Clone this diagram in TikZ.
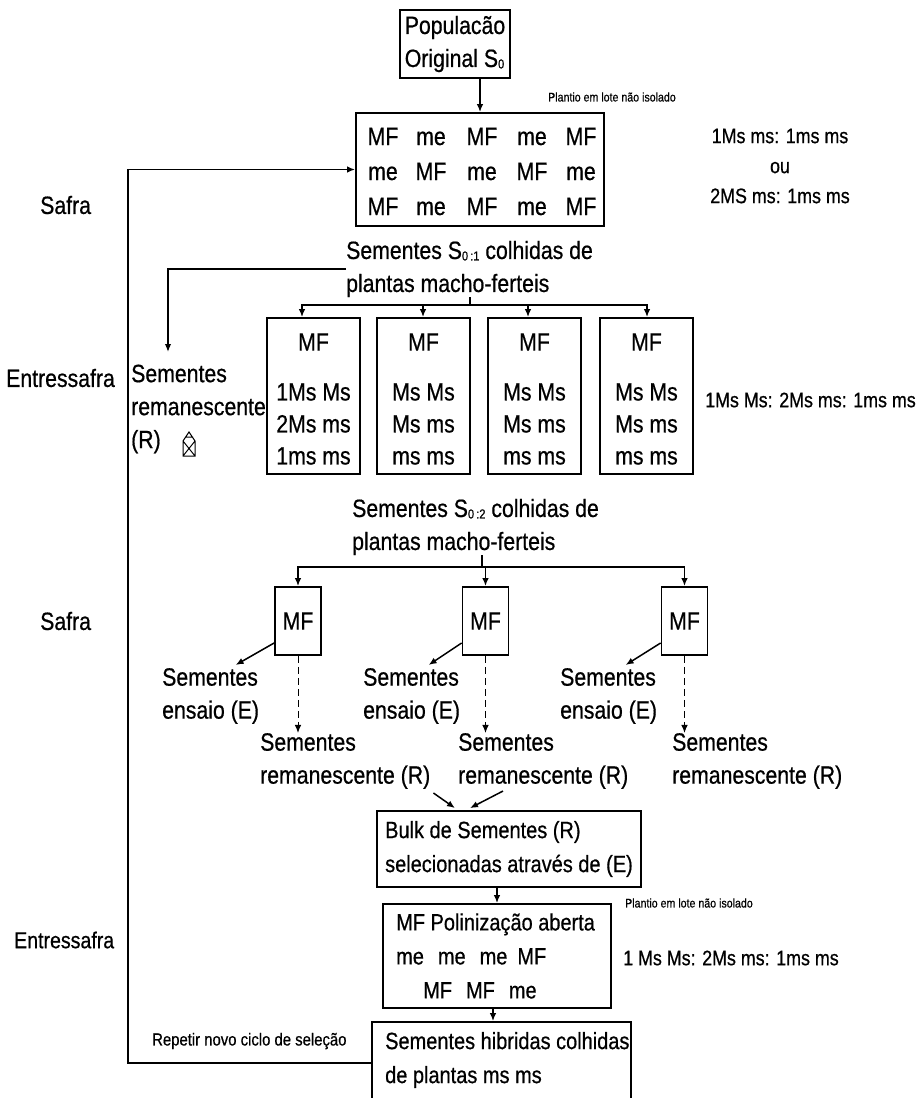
\documentclass[tikz,border=0pt]{standalone}
\usepackage{fontspec}
\setmainfont[FakeStretch=0.85,FakeBold=0.6]{Liberation Sans}
\usetikzlibrary{arrows.meta}
\newcommand{\sbx}[1]{\raisebox{-1.5pt}{\fontsize{13}{13}\selectfont #1}}
\begin{document}
\begin{tikzpicture}[x=1pt,y=-1pt]
\tikzset{
 T/.style={inner sep=0pt, font=\fontsize{25}{33}\selectfont, align=left},
 TB/.style={inner sep=0pt, font=\fontsize{23.5}{34}\selectfont, align=left},
 TR/.style={inner sep=0pt, font=\fontsize{21}{30}\selectfont, align=center},
 TS/.style={inner sep=0pt, font=\fontsize{12.5}{14}\selectfont},
 TP/.style={inner sep=0pt, font=\fontsize{17.5}{20}\selectfont},
 bx/.style={draw, line width=1.8pt, inner sep=0pt},
 ln/.style={line width=1.5pt},
 ar/.style={ln, -{Latex[length=8pt,width=6.5pt]}},
 da/.style={ar, dash pattern=on 7pt off 4pt, line width=1pt},
}
\fill[white] (0,0) rectangle (919,1098);
\useasboundingbox (0,0) rectangle (919,1098);
% top
\node[bx,T,minimum width=110pt,minimum height=68pt] (top) at (455,44) {Populacão\\Original S\sbx{0}};
\node[bx,minimum width=248pt,minimum height=113pt] (grid) at (480,169.5) {};
\draw[ar] (top.south -| grid.north) -- (grid.north);
\node[TS,anchor=west] (pl1) at (548,97) {Plantio em lote não isolado};
\foreach \r/\y in {1/145,2/180,3/215}{
 \foreach \c/\x in {1/383,2/431,3/482,4/532,5/581}{
   \pgfmathtruncatemacro\p{mod(\r+\c,2)}
   \node[T,anchor=base] (g\r\c) at (\x,\y) {\ifnum\p=0 MF\else me\fi};
 }
}
\node[TR] (rt1) at (780,166) {1Ms ms: 1ms ms\\ou\\2MS ms: 1ms ms};
\node[T,anchor=west] (sf1) at (40,205) {Safra};
% S0:1
\node[T,anchor=west] (s01) at (346,269) {Sementes S\sbx{0\,:1} colhidas de\\plantas macho-ferteis};
\coordinate (k1) at (168,352);
\draw[ar] (s01.west) -| (k1);
\coordinate (j1) at (470,305);
\draw[ln] (s01.south -| j1) -- (j1);
\foreach \n/\x/\d in {1/313.5/-11.5, 2/423.5/-0.5, 3/534.5/-6.5, 4/646.5/0.5}{
  \node[bx,minimum width=93pt,minimum height=156pt] (b\n) at (\x,396) {};
  \draw[ar] (j1) -| ([xshift=\d pt]b\n.north);
  \node[T] (bm\n) at (\x,342) {MF};
}
\tikzset{BT/.style={inner sep=0pt, font=\fontsize{25}{32}\selectfont, align=left}}
\node[BT] (bt1) at (313.5,424) {1Ms Ms\\2Ms ms\\1ms ms};
\node[BT] (bt2) at (423.5,424) {Ms Ms\\Ms ms\\ms ms};
\node[BT] (bt3) at (534.5,424) {Ms Ms\\Ms ms\\ms ms};
\node[BT] (bt4) at (646.5,424) {Ms Ms\\Ms ms\\ms ms};
\node[T,anchor=west] (rem) at (131,409) {Sementes\\remanescente\\(R)};
\draw[line width=1pt] (183,456) -- (183,441) -- (189,432) -- (195,441) -- (195,456) -- cycle
  (183,441) -- (195,456) (195,441) -- (183,456) (185,437) -- (193,437);
\node[T,anchor=west] (ent1) at (6,378) {Entressafra};
\node[TR,anchor=west] (rt2) at (705,400) {1Ms Ms: 2Ms ms: 1ms ms};
% S0:2
\node[T,anchor=west] (s02) at (352,527) {Sementes S\sbx{0\,:2} colhidas de\\plantas macho-ferteis};
\coordinate (j2) at (482,567);
\draw[ln] (s02.south -| j2) -- (j2);
\node[T,anchor=west] (r1) at (260,761) {Sementes\\remanescente (R)};
\node[T,anchor=west] (r2) at (458,761) {Sementes\\remanescente (R)};
\node[T,anchor=west] (r3) at (672,761) {Sementes\\remanescente (R)};
\foreach \n/\x/\ex/\es in {1/298/162/25, 2/485.5/363/17, 3/684.5/560/17}{
  \node[bx,T,minimum width=46pt,minimum height=68pt] (m\n) at (\x,621) {MF};
  \draw[ar] (j2) -| (m\n.north);
  \node[T,anchor=west] (e\n) at (\ex,696) {Sementes\\ensaio (E)};
  \draw[ar] ([yshift=-22pt]m\n.west) -- ([xshift=\es pt,yshift=3pt]e\n.north);
  \draw[da] (m\n.south) -- (m\n.south |- r\n.north);
}
\node[T,anchor=west] (sf2) at (40,621) {Safra};
% bulk
\node[bx,TB,minimum width=264pt,minimum height=76pt] (bulk) at (509,849) {Bulk de Sementes (R)\\selecionadas através de (E)};
\draw[ar] ([xshift=3pt,yshift=-4pt]r1.south east) -- ([xshift=-54pt,yshift=2pt]bulk.north);
\draw[ar] ([xshift=45pt,yshift=-2pt]r2.south west) -- ([xshift=-39pt,yshift=2pt]bulk.north);
% poli
\node[bx,minimum width=228pt,minimum height=104pt] (poli) at (497,956) {};
\node[TB,anchor=west] (polt) at (396,956) {MF Polinização aberta\\me\hspace{14pt}me\hspace{14pt}me\hspace{10pt}MF\\\hspace*{27pt}MF\hspace{14pt}MF\hspace{14pt}me};
\draw[ar] (bulk.south -| poli.north) -- (poli.north);
\node[TS,anchor=west] (pl2) at (625,903) {Plantio em lote não isolado};
\node[TR,anchor=west] (rt3) at (623,958) {1 Ms Ms: 2Ms ms: 1ms ms};
\node[T,anchor=west,font=\fontsize{23}{30}\selectfont] (ent2) at (14,940) {Entressafra};
% bottom
\node[bx,minimum width=259pt,minimum height=100pt] (bot) at (501.5,1072) {};
\node[TB,anchor=west] (bott) at (385,1060) {Sementes hibridas colhidas\\de plantas ms ms};
\draw[ar] ([xshift=-4pt]poli.south) -- ([xshift=-4pt]poli.south |- bot.north);
\coordinate (lt) at (128,169.5);
\draw[ar] ([yshift=9pt]bot.west) -| (lt) -- (grid.west);
\node[TP,anchor=west] (rep) at (152,1041) {Repetir novo ciclo de seleção};
\end{tikzpicture}
\end{document}
